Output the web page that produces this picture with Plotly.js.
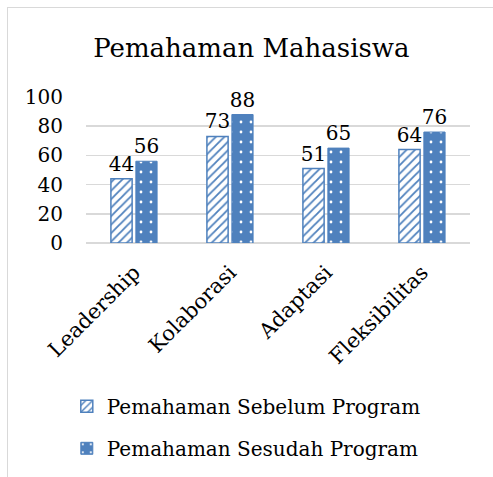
<!DOCTYPE html>
<html>
<head>
<meta charset="utf-8">
<script src="https://cdn.plot.ly/plotly-3.0.1.min.js"></script>
<style>
html,body{margin:0;padding:0;background:#fff;}
#wrap{position:relative;width:493px;height:477px;overflow:hidden;}
#frame{position:absolute;left:7px;top:7px;width:500px;height:500px;border-left:1px solid #d9d9d9;border-top:1px solid #d9d9d9;box-sizing:border-box;pointer-events:none;}
#chart{position:absolute;left:0;top:0;width:493px;height:477px;}
</style>
</head>
<body>
<div id="wrap"><div id="chart"></div><div id="frame"></div></div>
<script>
const categories = ["Leadership", "Kolaborasi", "Adaptasi", "Fleksibilitas"];
const sebelum = [44, 73, 51, 64];
const sesudah = [56, 88, 65, 76];
const seriesNames = ["Pemahaman Sebelum Program", "Pemahaman Sesudah Program"];

const BLUE = "#4F81BD";
const FONT = "DejaVu Serif";

const traces = [
  {
    type: "bar", name: seriesNames[0], x: categories, y: sebelum,
    legendgroup: "a",
    text: sebelum.map(String), textposition: "outside", cliponaxis: false, constraintext: "none",
    textfont: {family: FONT, size: 20, color: "#000"},
    marker: {color: "#fff", line: {color: BLUE, width: 1.5},
      pattern: {shape: "/", fgcolor: BLUE, bgcolor: "#fff", size: 6, solidity: 0.3}}
  },
  {
    type: "bar", name: seriesNames[1], x: categories, y: sesudah,
    legendgroup: "b",
    text: sesudah.map(String), textposition: "outside", cliponaxis: false, constraintext: "none",
    textfont: {family: FONT, size: 20, color: "#000"},
    marker: {color: BLUE, line: {color: BLUE, width: 1},
      pattern: {shape: ".", fgcolor: "#fff", bgcolor: BLUE, size: 10, solidity: 0.06}}
  }
];

const layout = {
  width: 493, height: 477,
  margin: {l: 86, r: 23, t: 97, b: 234, autoexpand: false},
  paper_bgcolor: "rgba(0,0,0,0)", plot_bgcolor: "rgba(0,0,0,0)",
  font: {family: FONT, size: 20, color: "#000"},
  title: {text: "Pemahaman Mahasiswa", font: {family: FONT, size: 26, color: "#000"},
    x: 0.51, xanchor: "center", y: 0.9, yanchor: "middle"},
  barmode: "group", bargap: 0.48, bargroupgap: 0.15,
  showlegend: true,
  legend: {x: -0.05, xanchor: "left", y: -0.985, yanchor: "top", orientation: "v",
    font: {family: FONT, size: 20, color: "#000"}, tracegroupgap: 13, traceorder: "grouped",
    itemwidth: 30},
  xaxis: {tickangle: -45, showgrid: false, showline: false, ticks: "", automargin: false,
    ticklabelstandoff: 12,
    tickfont: {family: FONT, size: 21, color: "#000"}, fixedrange: true},
  yaxis: {range: [0, 100], dtick: 20, showgrid: true, gridcolor: "#d9d9d9", gridwidth: 1.5,
    zeroline: true, zerolinecolor: "#d9d9d9", zerolinewidth: 1.5, showline: false, ticks: "",
    ticklabelstandoff: 22, automargin: false,
    tickfont: {family: FONT, size: 20, color: "#000"}, fixedrange: true}
};

Plotly.newPlot("chart", traces, layout, {staticPlot: true});
</script>
</body>
</html>
